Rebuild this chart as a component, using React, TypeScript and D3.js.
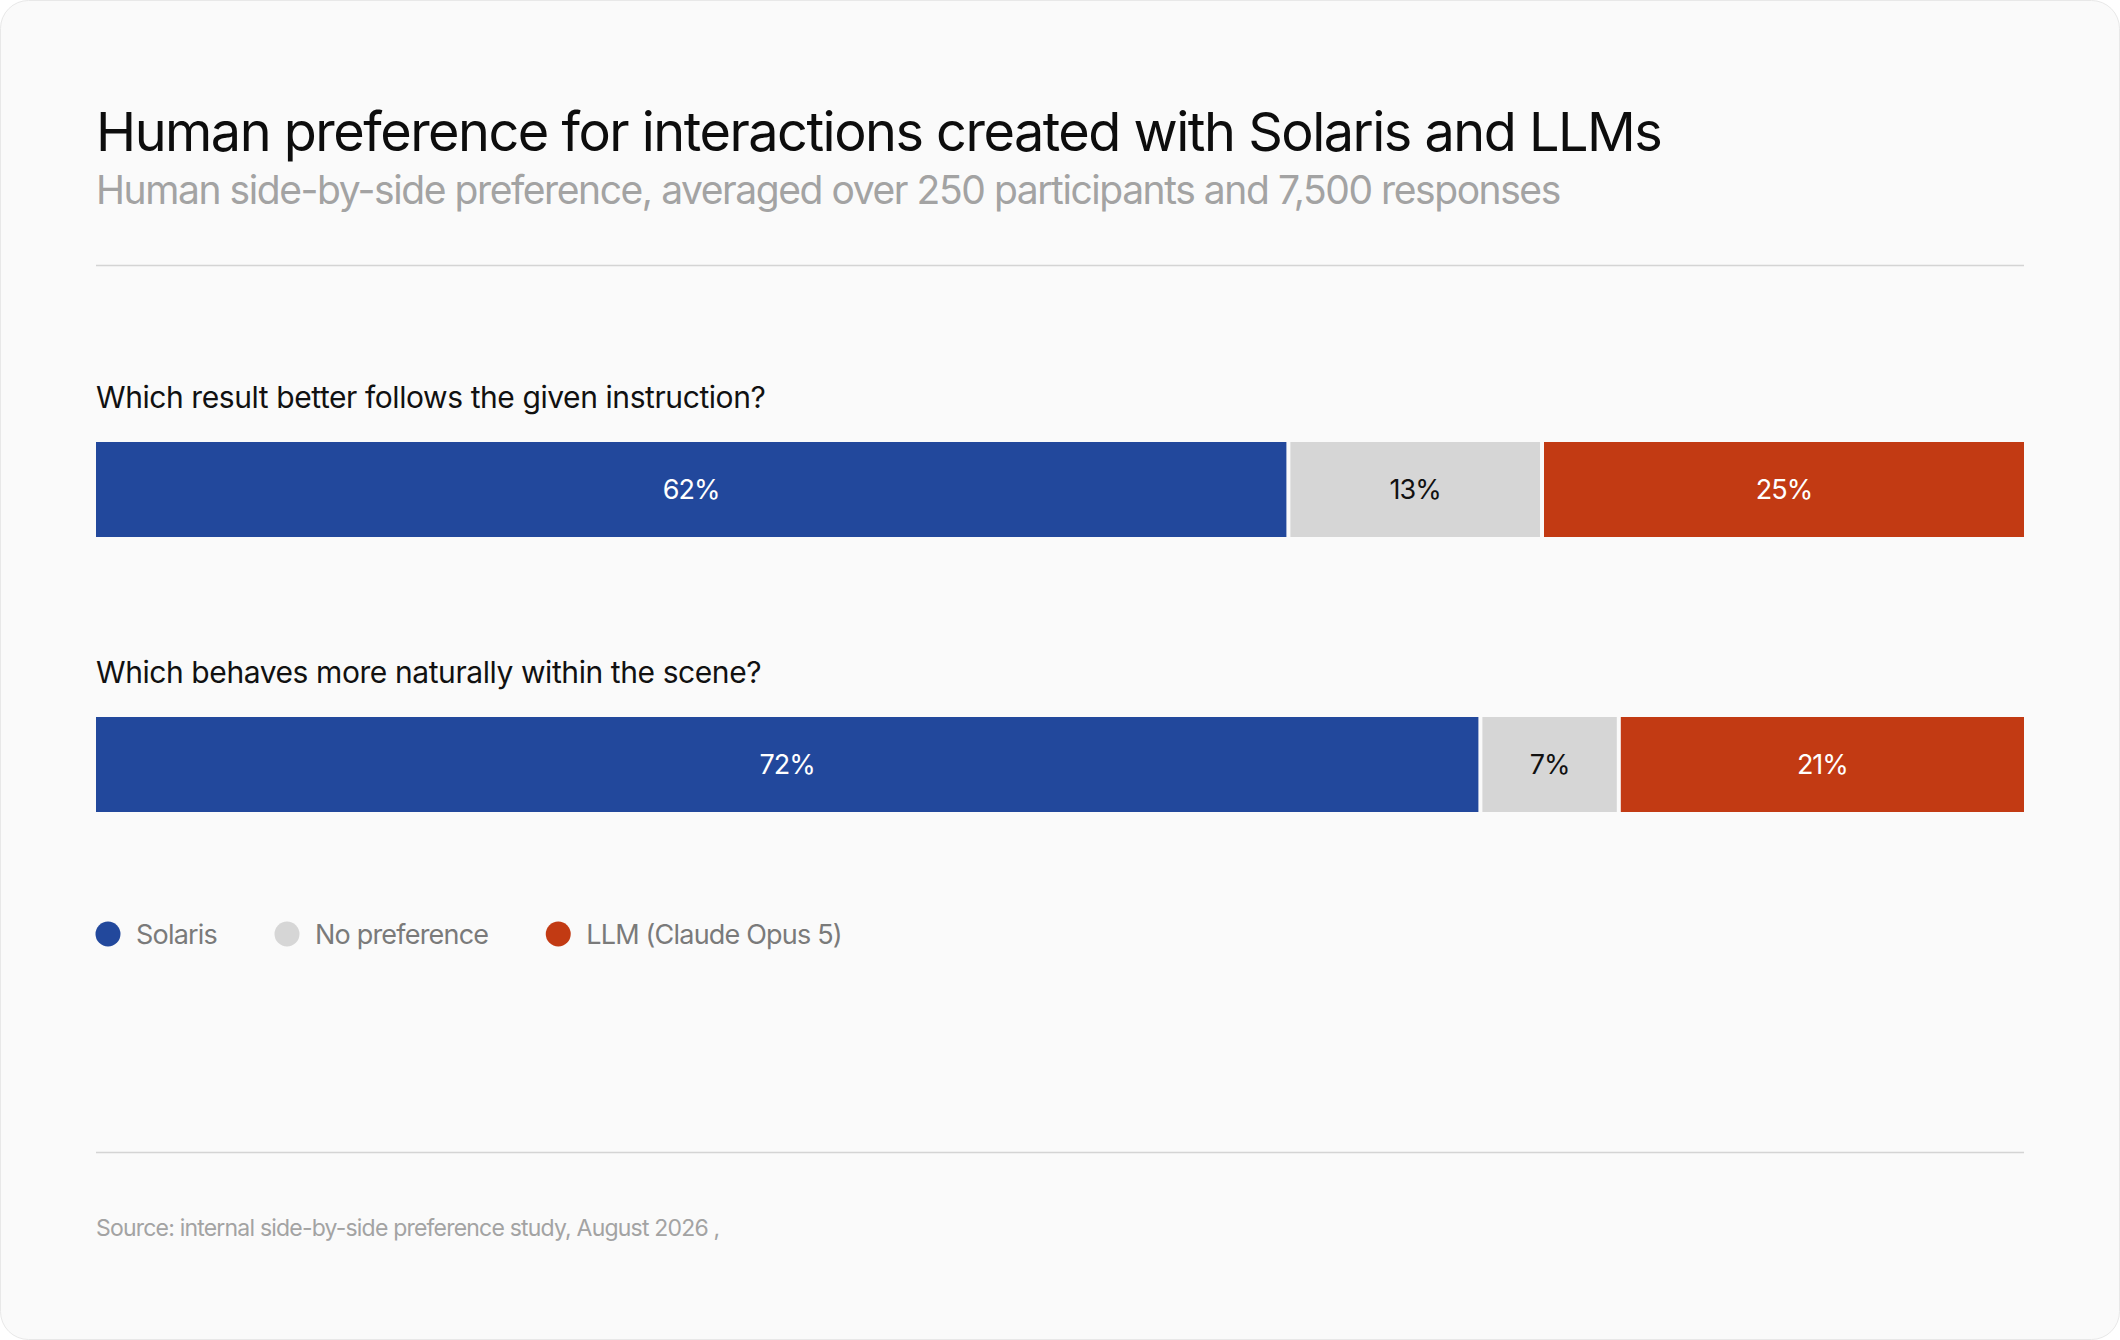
import React, { useEffect, useRef } from 'react';
import * as d3 from 'd3';

const W = 2120;
const H = 1340;

const title = 'Human preference for interactions created with Solaris and LLMs';
const subtitle = 'Human side-by-side preference, averaged over 250 participants and 7,500 responses';
const source = 'Source: internal side-by-side preference study, August 2026 ,';

const questions = [
  'Which result better follows the given instruction?',
  'Which behaves more naturally within the scene?',
];
const seriesKeys = ['Solaris', 'No preference', 'LLM (Claude Opus 5)'];
const solarisValues = [62, 72];
const noPrefValues = [13, 7];
const llmValues = [25, 21];

const colors = ['#22489c', '#d6d6d6', '#c23a13'];
const labelColors = ['#ffffff', '#111111', '#ffffff'];

const FONT = 'Inter, "Noto Sans", sans-serif';

export default function App() {
  const svgRef = useRef<SVGSVGElement | null>(null);

  useEffect(() => {
    if (!svgRef.current) return;
    const svg = d3.select(svgRef.current);
    svg.selectAll('*').remove();

    const left = 96;
    const right = 2024;
    const gap = 4; // white gap between segments

    // card background
    svg.append('rect')
      .attr('width', W).attr('height', H).attr('fill', '#ffffff');
    svg.append('rect')
      .attr('x', 0.5).attr('y', 0.5)
      .attr('width', W - 1).attr('height', H - 1)
      .attr('rx', 28)
      .attr('fill', '#fafafa')
      .attr('stroke', '#e8e8e8');

    // header
    svg.append('text')
      .attr('x', left).attr('y', 151)
      .attr('font-family', FONT).attr('font-size', 54)
      .attr('letter-spacing', '-1.5px')
      .attr('fill', '#0d0d0d')
      .text(title);

    svg.append('text')
      .attr('x', left).attr('y', 204)
      .attr('font-family', FONT).attr('font-size', 39)
      .attr('letter-spacing', '-1.43px')
      .attr('fill', '#a3a3a3')
      .text(subtitle);

    svg.append('line')
      .attr('x1', left).attr('x2', right)
      .attr('y1', 265.5).attr('y2', 265.5)
      .attr('stroke', '#d4d4d4').attr('stroke-width', 1.5);

    // data
    const rows = questions.map((q, i) => ({
      question: q,
      'Solaris': solarisValues[i],
      'No preference': noPrefValues[i],
      'LLM (Claude Opus 5)': llmValues[i],
    }));

    const stack = d3.stack<any>().keys(seriesKeys);
    const layers = stack(rows);

    // the gaps eat into the bar width, so the scale spans the bar minus them
    const x = d3.scaleLinear()
      .domain([0, 100])
      .range([left, right - gap * (seriesKeys.length - 1)]);
    const y = d3.scaleBand<string>().domain(questions).range([330, 880]);
    const barTop = 112;
    const barH = 95;

    // question labels
    svg.append('g')
      .selectAll('text')
      .data(questions)
      .join('text')
      .attr('x', left)
      .attr('y', (d) => (y(d) as number) + 78)
      .attr('font-family', FONT).attr('font-size', 30)
      .attr('letter-spacing', '-0.42px')
      .attr('fill', '#111111')
      .text((d) => d);

    layers.forEach((layer, li) => {
      const g = svg.append('g');
      g.selectAll('rect')
        .data(layer)
        .join('rect')
        .attr('x', (d) => x(d[0]) + li * gap)
        .attr('y', (d) => (y(d.data.question) as number) + barTop)
        .attr('width', (d) => x(d[1]) - x(d[0]))
        .attr('height', barH)
        .attr('fill', colors[li]);

      g.selectAll('text')
        .data(layer)
        .join('text')
        .attr('x', (d) => (x(d[0]) + x(d[1])) / 2 + li * gap)
        .attr('y', (d) => (y(d.data.question) as number) + barTop + barH / 2)
        .attr('dy', '0.36em')
        .attr('text-anchor', 'middle')
        .attr('font-family', FONT).attr('font-size', 27)
        .attr('letter-spacing', '-1px')
        .attr('fill', labelColors[li])
        .text((d) => `${d[1] - d[0]}%`);
    });

    // legend
    const legend = svg.append('g').attr('transform', 'translate(0, 934)');
    let cx = left;
    seriesKeys.forEach((k, i) => {
      const item = legend.append('g').attr('transform', `translate(${cx},0)`);
      item.append('circle').attr('cx', 12).attr('cy', 0).attr('r', 12.5).attr('fill', colors[i]);
      const t = item.append('text')
        .attr('x', 40).attr('dy', '0.36em')
        .attr('font-family', FONT).attr('font-size', 27)
        .attr('letter-spacing', '-0.8px')
        .attr('fill', '#7a7a7a')
        .text(k);
      const w = (t.node() as SVGTextElement).getComputedTextLength();
      cx += 40 + w + 58;
    });

    svg.append('line')
      .attr('x1', left).attr('x2', right)
      .attr('y1', 1152.5).attr('y2', 1152.5)
      .attr('stroke', '#d4d4d4').attr('stroke-width', 1.5);

    svg.append('text')
      .attr('x', left).attr('y', 1236)
      .attr('font-family', FONT).attr('font-size', 23)
      .attr('letter-spacing', '-0.8px')
      .attr('fill', '#a3a3a3')
      .text(source);
  }, []);

  return (
    <svg
      ref={svgRef}
      width={W}
      height={H}
      style={{ position: 'absolute', left: 0, top: 0, display: 'block' }}
    />
  );
}
